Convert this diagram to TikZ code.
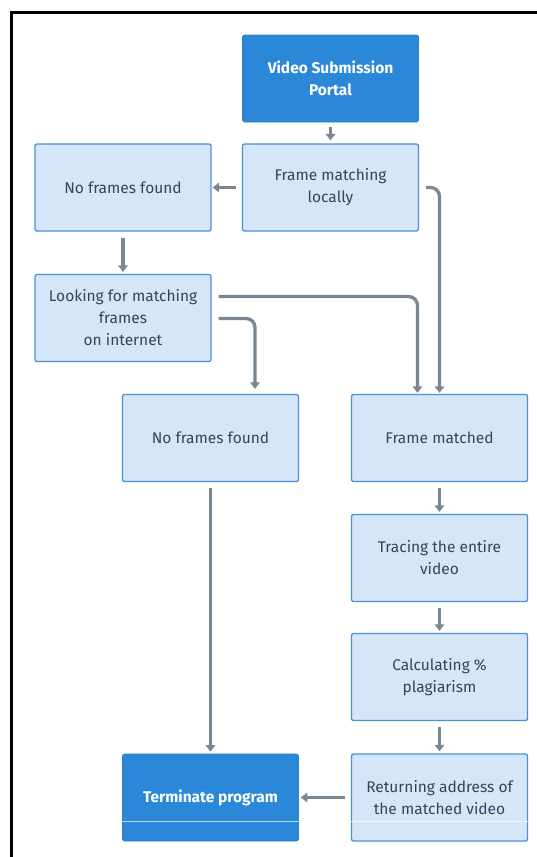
\documentclass[tikz,border=0pt]{standalone}
\usepackage{fontspec}
\setmainfont{Fira Sans}
\usetikzlibrary{arrows.meta}
\definecolor{dblue}{HTML}{2B88D8}
\definecolor{lfill}{HTML}{D4E6F7}
\definecolor{lborder}{HTML}{4A90D9}
\definecolor{arr}{HTML}{7A8793}
\definecolor{txt}{HTML}{3A4450}
\begin{document}
\begin{tikzpicture}[x=1pt,y=-1pt,
  box/.style={rectangle, rounded corners=2pt, minimum width=176pt, minimum height=87pt,
    align=center, font=\fontsize{15.5}{22}\selectfont, inner sep=2pt},
  lbox/.style={box, fill=lfill, draw=lborder, line width=1.3pt, text=txt},
  dbox/.style={box, fill=dblue, draw=dblue!85!black!40!dblue, line width=0.6pt, text=white, font=\fontsize{15.5}{22}\selectfont\bfseries},
  conn/.style={draw=arr, line width=3.3pt, rounded corners=9pt, -{Triangle[width=9.5pt,length=6.5pt]}}]
\useasboundingbox (0,0) rectangle (537,857);
\fill[white] (0,0) rectangle (537,857);
\draw[line width=3pt] (11,857) -- (11,12) -- (537,12);

\node[dbox] (vsp) at (330.5,78.5) {Video Submission\\Portal};
\node[lbox] (fm) at (330.5,187.5) {Frame matching\\locally};
\node[lbox] (nf1) at (123,187.5) {No frames found};
\node[lbox] (look) at (123,318) {Looking for matching\\frames\\on internet};
\node[lbox] (nf2) at (210.5,438) {No frames found};
\node[lbox] (fmd) at (439.5,438) {Frame matched};
\node[lbox] (trace) at (439.5,558) {Tracing the entire\\video};
\node[lbox] (calc) at (439.5,677) {Calculating \%\\plagiarism};
\node[lbox] (ret) at (439.5,797.5) {Returning address of\\the matched video};
\node[dbox] (term) at (210.5,797.5) {Terminate program};

\draw[conn, shorten <=5pt, shorten >=3pt] (vsp.south) -- (fm.north);
\draw[conn, shorten <=6pt, shorten >=1pt] (fm.west) -- (nf1.east);
\draw[conn] ([xshift=7pt]fm.east) -| ([yshift=1pt]fmd.north);
\draw[conn, shorten <=6pt, shorten >=2pt] (nf1.south) -- (look.north);
\draw[conn] ([shift={(7,-21.5)}]look.east) -| ([shift={(-22,-1)}]fmd.north);
\draw[conn] ([shift={(7,0.5)}]look.east) -| ([shift={(44.5,-5)}]nf2.north);
\draw[conn, shorten <=6pt, shorten >=2pt] (nf2.south) -- (term.north);
\draw[conn, shorten <=6pt, shorten >=2pt] (fmd.south) -- (trace.north);
\draw[conn, shorten <=6pt, shorten >=2pt] (trace.south) -- (calc.north);
\draw[conn, shorten <=6pt, shorten >=2pt] (calc.south) -- (ret.north);
\draw[conn, shorten <=6pt, shorten >=2pt] (ret.west) -- (term.east);

\draw[white, opacity=0.7, line width=0.5pt] (term.west |- 0,821) -- (ret.east |- 0,821);
\end{tikzpicture}
\end{document}
